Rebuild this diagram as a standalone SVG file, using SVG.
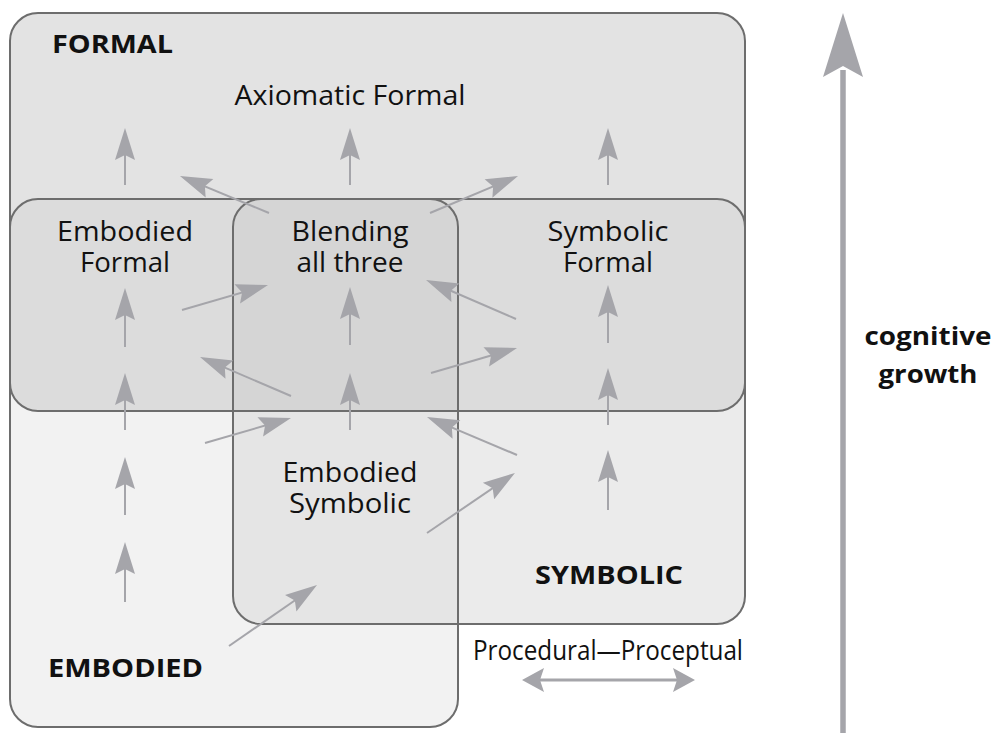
<svg xmlns="http://www.w3.org/2000/svg" width="998" height="733" viewBox="0 0 998 733">
<style>
.t{font-family:"Open Sans","Noto Sans","Liberation Sans",sans-serif;font-size:28px;fill:#111;text-anchor:middle}
.b{font-family:"Open Sans","Noto Sans","Liberation Sans",sans-serif;font-size:25px;font-weight:bold;fill:#111}
.ol{fill:none;stroke:#6d6d6d;stroke-width:2}
.ar{stroke:#a5a5aa;stroke-width:2;fill:none;marker-end:url(#ah)}
</style>
<defs>
<marker id="ah" markerUnits="userSpaceOnUse" orient="auto" markerWidth="40" markerHeight="30" refX="0" refY="0" viewBox="-25 -15 40 30" overflow="visible">
<path d="M10,0 L-22,-10 L-17,0 L-22,10 Z" fill="#a5a5aa"/>
</marker>
<marker id="ah2" markerUnits="userSpaceOnUse" orient="auto-start-reverse" markerWidth="40" markerHeight="30" refX="0" refY="0" viewBox="-25 -15 40 30" overflow="visible">
<path d="M10,0 L-12,-12 L-8,0 L-12,12 Z" fill="#a5a5aa"/>
</marker>
</defs>
<rect width="998" height="733" fill="#ffffff"/>
<g id="fills">
<rect x="10" y="13" width="735" height="398" rx="28" fill="#e3e3e3"/>
<rect x="10" y="199" width="448" height="528" rx="28" fill="#f2f2f2"/>
<rect x="233" y="199" width="512" height="425" rx="28" fill="#ebebeb"/>
<rect x="10" y="199" width="735" height="212" rx="28" fill="#dcdcdc"/>
<path d="M261,199 H430 A28,28 0 0 1 458,227 V624 H261 A28,28 0 0 1 233,596 V227 A28,28 0 0 1 261,199 Z" fill="#e5e5e5"/>
<path d="M261,199 H430 A28,28 0 0 1 458,227 V411 H233 V227 A28,28 0 0 1 261,199 Z" fill="#d5d5d5"/>
</g>
<g id="formal">
<rect class="ol" x="10" y="13" width="735" height="398" rx="28"/>
<text class="b" x="52" y="53" textLength="121" lengthAdjust="spacingAndGlyphs">FORMAL</text>
</g>
<g id="embodied">
<rect class="ol" x="10" y="199" width="448" height="528" rx="28"/>
<text class="b" x="48" y="677" textLength="155" lengthAdjust="spacingAndGlyphs">EMBODIED</text>
</g>
<g id="symbolic">
<rect class="ol" x="233" y="199" width="512" height="425" rx="28"/>
<text class="b" x="535" y="584" textLength="148" lengthAdjust="spacingAndGlyphs">SYMBOLIC</text>
</g>
<g id="axiomatic-formal">
<text class="t" x="350" y="105" textLength="231" lengthAdjust="spacingAndGlyphs">Axiomatic Formal</text>
</g>
<g id="embodied-formal">
<text class="t"><tspan x="125" y="241" textLength="136" lengthAdjust="spacingAndGlyphs">Embodied</tspan><tspan x="125" y="272" textLength="90" lengthAdjust="spacingAndGlyphs">Formal</tspan></text>
</g>
<g id="blending">
<text class="t"><tspan x="350" y="241" textLength="117" lengthAdjust="spacingAndGlyphs">Blending</tspan><tspan x="350" y="272" textLength="107" lengthAdjust="spacingAndGlyphs">all three</tspan></text>
</g>
<g id="symbolic-formal">
<text class="t"><tspan x="608" y="241" textLength="121" lengthAdjust="spacingAndGlyphs">Symbolic</tspan><tspan x="608" y="272" textLength="90" lengthAdjust="spacingAndGlyphs">Formal</tspan></text>
</g>
<g id="embodied-symbolic">
<text class="t"><tspan x="350" y="482" textLength="135" lengthAdjust="spacingAndGlyphs">Embodied</tspan><tspan x="350" y="513" textLength="122" lengthAdjust="spacingAndGlyphs">Symbolic</tspan></text>
</g>
<g id="procedural-proceptual">
<text class="t" x="608" y="660" font-size="26" textLength="270" lengthAdjust="spacingAndGlyphs">Procedural—Proceptual</text>
<line x1="532" y1="680" x2="685" y2="680" stroke="#a5a5aa" stroke-width="3" marker-start="url(#ah2)" marker-end="url(#ah2)"/>
</g>
<g id="cognitive-growth">
<line x1="843" y1="70" x2="843" y2="733" stroke="#a5a5aa" stroke-width="5.5"/>
<path d="M843,13 L863,77 L843,66 L823,77 Z" fill="#a5a5aa"/>
<text class="b" font-size="26" text-anchor="middle"><tspan x="928" y="345" textLength="127" lengthAdjust="spacingAndGlyphs">cognitive</tspan><tspan x="928" y="383" textLength="99" lengthAdjust="spacingAndGlyphs">growth</tspan></text>
</g>
<g id="connectors">
<line class="ar" x1="125" y1="185" x2="125" y2="138"/>
<line class="ar" x1="125" y1="347" x2="125" y2="298"/>
<line class="ar" x1="125" y1="430" x2="125" y2="383"/>
<line class="ar" x1="125" y1="515" x2="125" y2="467"/>
<line class="ar" x1="125" y1="602" x2="125" y2="552"/>
<line class="ar" x1="350" y1="185" x2="350" y2="138"/>
<line class="ar" x1="350" y1="345" x2="350" y2="297"/>
<line class="ar" x1="350" y1="430" x2="350" y2="383"/>
<line class="ar" x1="608" y1="185" x2="608" y2="138"/>
<line class="ar" x1="608" y1="343" x2="608" y2="295"/>
<line class="ar" x1="608" y1="425" x2="608" y2="378"/>
<line class="ar" x1="608" y1="510" x2="608" y2="460"/>
<line class="ar" x1="269" y1="213" x2="189.2" y2="179.8"/>
<line class="ar" x1="430" y1="213" x2="508.8" y2="179.9"/>
<line class="ar" x1="182" y1="310" x2="258.4" y2="287.8"/>
<line class="ar" x1="291" y1="396" x2="209.2" y2="360.9"/>
<line class="ar" x1="205" y1="443" x2="281.4" y2="420.8"/>
<line class="ar" x1="516" y1="319" x2="435.2" y2="284"/>
<line class="ar" x1="431" y1="373" x2="507.4" y2="350.8"/>
<line class="ar" x1="517" y1="455" x2="436.2" y2="420.9"/>
<line class="ar" x1="427" y1="533" x2="506.7" y2="478.6"/>
<line class="ar" x1="229" y1="646" x2="308.8" y2="590.7"/>
</g>
</svg>
